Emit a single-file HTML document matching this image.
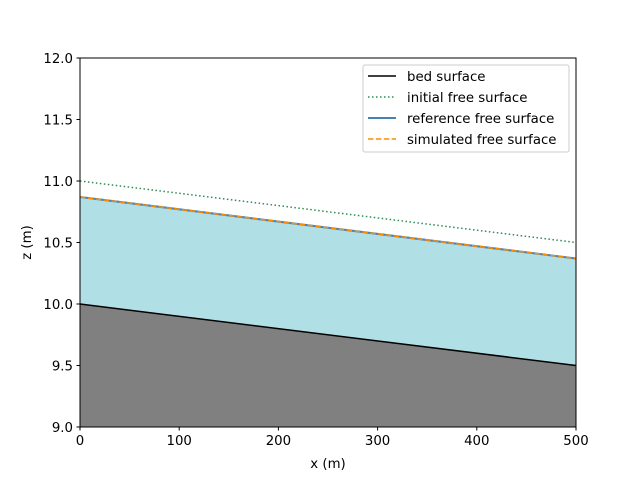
<!DOCTYPE html>
<html><head><meta charset="utf-8"><style>
body{margin:0;background:#fff}
svg{display:block;font-family:"DejaVu Sans","Liberation Sans",sans-serif}
</style></head><body>
<svg id="c" width="640" height="480"></svg>
<script>
const xPts=[0,500];
const bed=[10.0,9.5];
const initialFS=[11.0,10.5];
const referenceFS=[10.87,10.37];
const simulatedFS=[10.87,10.37];
const xTicks=[0,100,200,300,400,500];
const yTicks=[9.0,9.5,10.0,10.5,11.0,11.5,12.0];
const legendLabels=["bed surface","initial free surface","reference free surface","simulated free surface"];

const L=80,R=576,T=58,B=427;
const sx=v=>L+(v-0)/(500-0)*(R-L);
const sy=v=>B-(v-9)/(12-9)*(B-T);
const svg=document.getElementById('c');
const NS='http://www.w3.org/2000/svg';
function mk(t,a,p){const e=document.createElementNS(NS,t);for(const k in a)e.setAttribute(k,a[k]);(p||svg).appendChild(e);return e;}
function pts(ys){return xPts.map((x,i)=>sx(x)+','+sy(ys[i])).join(' ');}

let e;
e=mk('polygon',{points:pts(referenceFS)+' '+[...xPts].reverse().map((x,i)=>sx(x)+','+sy(bed[xPts.length-1-i])).join(' '),fill:'#b0dfe5'});


e=mk('polygon',{points:pts(bed)+' '+sx(500)+','+sy(9)+' '+sx(0)+','+sy(9),fill:'#808080'});


e=mk('polyline',{points:pts(bed),fill:'none',stroke:'#000','stroke-width':1.5});


e=mk('polyline',{points:pts(initialFS),fill:'none',stroke:'#2e8b57','stroke-width':1.5,'stroke-dasharray':'1.5,2.5'});


e=mk('polyline',{points:pts(referenceFS),fill:'none',stroke:'#4682b4','stroke-width':2});


e=mk('polyline',{points:pts(simulatedFS),fill:'none',stroke:'#ff8c00','stroke-width':1.5,'stroke-dasharray':'5.5,2.4'});



e=mk('rect',{x:L,y:T,width:R-L,height:B-T,fill:'none',stroke:'#000','stroke-width':1});



xTicks.forEach(v=>{
 const t=mk('line',{x1:sx(v),x2:sx(v),y1:B,y2:B+3.5,stroke:'#000'});
 
 
 const l=mk('text',{x:sx(v),y:B+18,'text-anchor':'middle','font-size':13.3});l.textContent=v;
 
 
});
yTicks.forEach(v=>{
 const t=mk('line',{x1:L-3.5,x2:L,y1:sy(v),y2:sy(v),stroke:'#000'});
 
 
 const l=mk('text',{x:L-7,y:sy(v)+5,'text-anchor':'end','font-size':13.3});l.textContent=v.toFixed(1);
 
 
});
e=mk('text',{x:(L+R)/2,y:468,'text-anchor':'middle','font-size':13.3});e.textContent='x (m)';


e=mk('text',{x:31,y:(T+B)/2,'text-anchor':'middle','font-size':13.3,transform:`rotate(-90 31 ${(T+B)/2})`});e.textContent='z (m)';



const lg=mk('g',{});


mk('rect',{x:363,y:65,width:206,height:87,rx:2,fill:'#fff','fill-opacity':0.8,stroke:'#ccc'},lg);
const sty=[{stroke:'#000','stroke-width':1.5},{stroke:'#2e8b57','stroke-width':1.5,'stroke-dasharray':'1.5,2.5'},{stroke:'#4682b4','stroke-width':2},{stroke:'#ff8c00','stroke-width':1.5,'stroke-dasharray':'5.5,2.4'}];
legendLabels.forEach((s,i)=>{
 const y=76+i*21;
 const g=mk('g',{},lg);
 
 
 mk('line',Object.assign({x1:368,x2:396,y1:y,y2:y},sty[i]),g);
 const t=mk('text',{x:407,y:y+5,'font-size':13.3},g);t.textContent=s;
});
</script>
</body></html>
